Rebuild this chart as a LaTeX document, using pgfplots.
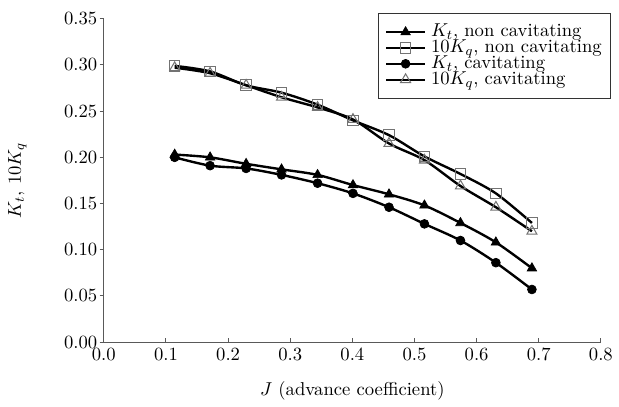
\documentclass[11pt,border=0pt]{standalone}
\usepackage{pgfplots}
\pgfplotsset{compat=1.18}

% Propeller open-water coefficients versus advance coefficient
\pgfplotstableread{
J      KtNC   KqNC   KtC    KqC
0.114  0.203  0.299  0.200  0.297
0.171  0.200  0.293  0.191  0.291
0.229  0.193  0.278  0.188  0.278
0.286  0.187  0.270  0.181  0.265
0.344  0.181  0.257  0.172  0.254
0.401  0.170  0.240  0.161  0.241
0.459  0.160  0.224  0.146  0.215
0.516  0.148  0.201  0.128  0.197
0.574  0.129  0.182  0.110  0.169
0.631  0.108  0.161  0.086  0.146
0.689  0.080  0.129  0.057  0.120
}\coeffs

\definecolor{axisgray}{gray}{0.35}
\definecolor{markgray}{gray}{0.45}

\begin{document}
\begin{tikzpicture}
\begin{axis}[
  scale only axis,
  width=292pt, height=190pt,
  xmin=0, xmax=0.8, ymin=0, ymax=0.35,
  xtick={0,0.1,...,0.8},
  ytick={0,0.05,...,0.35},
  axis lines=left,
  axis line style={-, axisgray, line width=0.6pt},
  tick align=inside,
  major tick length=2.5pt,
  tick style={axisgray, line width=0.6pt},
  y tick style={xshift=-2.5pt},
  x tick label style={/pgf/number format/.cd, fixed, fixed zerofill, precision=1},
  y tick label style={/pgf/number format/.cd, fixed, fixed zerofill, precision=2},
  xlabel={$J$ (advance coefficient)},
  ylabel={$K_t$, $10K_q$},
  every axis x label/.style={at={(axis description cs:0.5,-0.15)}, anchor=center},
  every axis y label/.style={at={(axis description cs:-0.174,0.5)}, rotate=90, anchor=center},
  legend cell align=left,
  legend style={
    at={(axis description cs:1.02,1.018)}, anchor=north east,
    draw=black!80, line width=0.6pt,
    inner xsep=4pt, inner ysep=6.5pt,
    row sep=0.3pt, column sep=2pt,
    nodes={inner xsep=1pt, inner ysep=0pt, text height=7.2pt, text depth=1.8pt},
  },
  legend image code/.code={
    \draw[line width=1.2pt, mark repeat=2, mark phase=2]
      plot coordinates {(0cm,0cm) (0.4cm,0cm) (0.8cm,0cm)};
  },
  every axis plot/.append style={line width=1.4pt},
]
\addplot[black, smooth, mark=triangle*, mark size=3.2pt, mark options={solid, line width=0.4pt}]
  table[x=J, y=KtNC] {\coeffs};
\addlegendentry{$K_t$, non cavitating}
\addplot[black, smooth, mark=square, mark size=3.1pt, mark options={solid, draw=markgray, line width=0.6pt}]
  table[x=J, y=KqNC] {\coeffs};
\addlegendentry{$10K_q$, non cavitating}
\addplot[black, smooth, mark=*, mark size=2.6pt, mark options={solid, line width=0.4pt}]
  table[x=J, y=KtC] {\coeffs};
\addlegendentry{$K_t$, cavitating}
\addplot[black, smooth, mark=triangle, mark size=3.4pt, mark options={solid, draw=markgray, line width=0.6pt}]
  table[x=J, y=KqC] {\coeffs};
\addlegendentry{$10K_q$, cavitating}
\end{axis}
\path ([xshift=-61pt,yshift=-37.3pt]current axis.south west)
  rectangle ([xshift=8.2pt,yshift=11pt]current axis.north east);
\end{tikzpicture}
\end{document}
